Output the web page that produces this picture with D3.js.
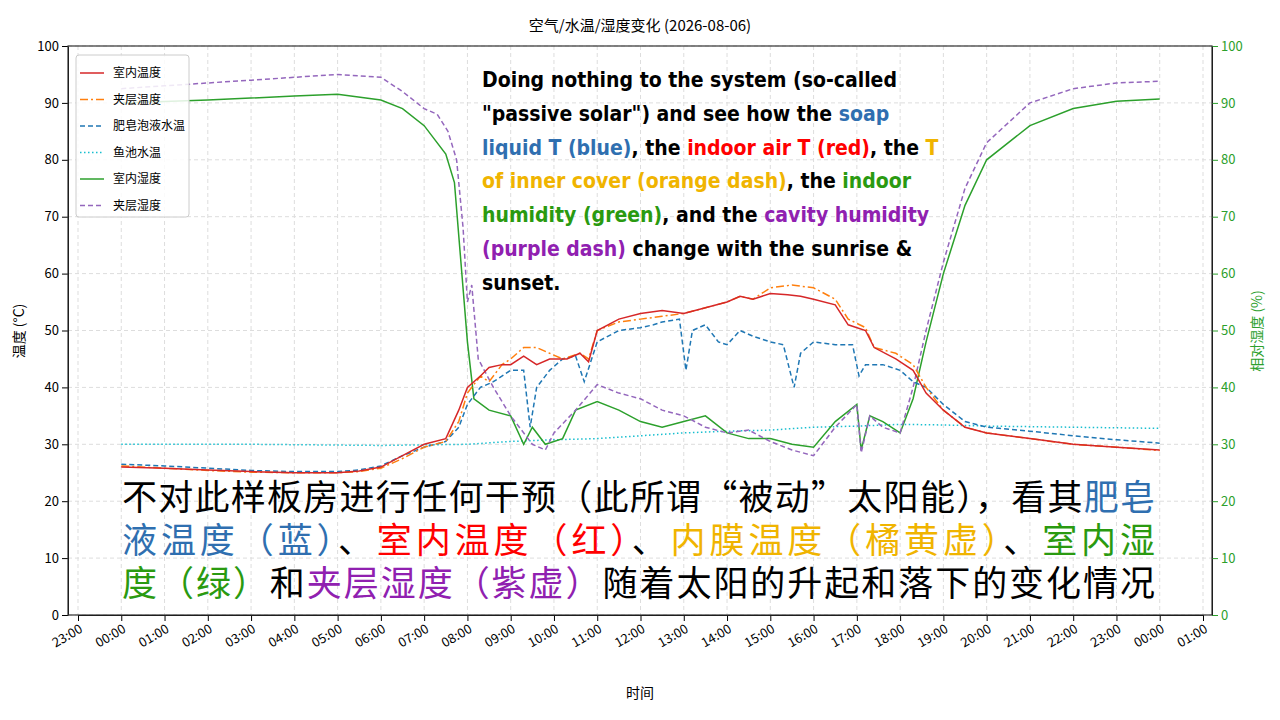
<!DOCTYPE html><html><head><meta charset="utf-8">
<script src="https://cdn.jsdelivr.net/npm/d3@7"></script>
<style>body{margin:0;background:#fff}</style></head><body><svg id="c" width="1280" height="720"></svg>
<script>
const tickLabels=["23:00","00:00","01:00","02:00","03:00","04:00","05:00","06:00","07:00","08:00","09:00","10:00","11:00","12:00","13:00","14:00","15:00","16:00","17:00","18:00","19:00","20:00","21:00","22:00","23:00","00:00","01:00"];
const tickHours=d3.range(-1,26);
const indoorT=[[0,26],[1,25.8],[2,25.5],[3,25.2],[4,25],[5,25],[5.5,25.3],[6,26],[6.5,28],[7,30],[7.5,31],[7.8,36],[8,40],[8.3,42],[8.5,43.5],[8.8,44],[9,44],[9.3,45.5],[9.6,44],[9.9,45],[10.3,45],[10.6,46],[10.8,44.5],[11,50],[11.5,52],[12,53],[12.5,53.5],[13,53],[13.5,54],[14,55],[14.3,56],[14.6,55.5],[15,56.5],[15.4,56.3],[15.7,56],[16,55.5],[16.5,54.5],[16.8,51],[17.2,50],[17.4,47],[17.9,45],[18.3,43],[18.6,39],[19,36],[19.5,33],[20,32],[21,31],[22,30],[23,29.5],[24,29]];
const coverT=[[0,26.2],[1,25.8],[2,25.4],[3,25.1],[4,25],[5,25],[5.5,25.2],[6,25.8],[6.5,27.5],[7,29.5],[7.5,30.5],[7.8,34],[8,39],[8.3,42],[8.5,41],[8.8,44],[9,45],[9.3,47],[9.6,47],[9.9,46],[10.2,45],[10.6,46],[10.8,45],[11,50],[11.5,51.5],[12,52],[12.5,52.5],[13,53],[13.5,54],[14,55],[14.3,56],[14.6,55.5],[15,57.5],[15.5,58],[16,57.5],[16.5,55.5],[16.8,52],[17.2,50.5],[17.4,47],[17.9,46],[18.3,44],[18.6,40],[19,36],[19.5,33],[20,32],[21,31],[22,30],[23,29.5],[24,28.9]];
const soapT=[[0,26.5],[1,26.2],[2,25.8],[3,25.4],[4,25.2],[5,25.2],[5.5,25.5],[6,26.2],[6.5,28],[7,29.5],[7.5,30.5],[7.8,33],[8,37],[8.3,40],[8.6,41],[9,43],[9.3,43],[9.45,33],[9.6,40],[9.9,43],[10.2,45],[10.5,45.5],[10.7,41],[11,48],[11.5,50],[12,50.5],[12.3,51],[12.5,51.5],[12.9,52],[13.05,43],[13.2,50],[13.5,51],[13.8,48],[14,47.5],[14.3,50],[14.6,49],[15,48],[15.3,47.5],[15.55,40],[15.7,46],[16,48],[16.5,47.5],[16.9,47.5],[17.05,42],[17.2,44],[17.6,44],[18,43],[18.3,41],[18.6,40],[19,37],[19.5,34],[20,33],[21,32.3],[22,31.5],[23,30.8],[24,30.2]];
const pondT=[[0,30],[3,30],[6,29.8],[8,30],[9,30.5],[10,30.8],[11,31],[12,31.5],[13,32],[14,32.3],[15,32.5],[16,33],[17,33.2],[18,33.5],[19,33.4],[20,33.2],[22,33],[24,32.8]];
const indoorH=[[0,90],[2,90.5],[4,91.2],[5,91.5],[6,90.5],[6.5,89],[7,86],[7.5,81],[7.7,76],[7.85,62],[8,48],[8.15,38],[8.5,36],[9,35],[9.3,30],[9.5,33],[9.8,30],[10.2,31],[10.5,36],[11,37.5],[11.5,36],[12,34],[12.5,33],[13,34],[13.5,35],[14,32],[14.5,31],[15,31],[15.5,30],[16,29.5],[16.5,34],[17,37],[17.1,29],[17.3,35],[17.6,34],[18,32],[18.3,38],[18.6,48],[19,60],[19.5,72],[20,80],[21,86],[22,89],[23,90.3],[24,90.7]];
const cavityH=[[0,92.5],[1,93],[2,93.5],[3,94],[4,94.5],[5,95],[6,94.5],[6.5,92],[7,89],[7.3,88],[7.55,85],[7.75,80],[7.9,68],[8,55],[8.1,58],[8.25,45],[8.6,40],[9,35],[9.5,30],[9.8,29],[10,32],[10.5,36],[11,40.5],[11.5,39],[12,38],[12.5,36],[13,35],[13.5,33],[14,32],[14.5,32.5],[15,30.5],[15.5,29],[16,28],[16.5,33],[17,37],[17.1,28.5],[17.3,35],[17.6,33],[18,32],[18.3,40],[18.6,50],[19,62],[19.5,75],[20,83],[21,90],[22,92.5],[23,93.5],[24,93.8]];
const yTicks=d3.range(0,101,10);

const svg=d3.select("#c"),L=68,R=1212,T=46,B=615;
const x=d3.scaleLinear().domain([-1,25]).range([78,1203]);
const y=d3.scaleLinear().domain([0,100]).range([B,T]);
const f="'Noto Sans CJK SC','Noto Sans',sans-serif";
const g=svg.append("g");
tickHours.forEach(h=>g.append("line").attr("x1",x(h)).attr("x2",x(h)).attr("y1",T).attr("y2",B).attr("stroke","#ddd").attr("stroke-dasharray","4,3"));
yTicks.forEach(v=>g.append("line").attr("x1",L).attr("x2",R).attr("y1",y(v)).attr("y2",y(v)).attr("stroke","#ddd").attr("stroke-dasharray","4,3"));
const ax=svg.append("g").attr("transform",`translate(0,${B})`).call(d3.axisBottom(x).tickValues(tickHours).tickFormat((d,i)=>tickLabels[i]).tickSizeOuter(0));
ax.selectAll("text").attr("transform","rotate(-30)").attr("text-anchor","end").attr("dx","-0.3em").attr("dy","0.6em").style("font-size","13px").style("font-family",f);
svg.append("g").attr("transform",`translate(${L},0)`).call(d3.axisLeft(y).tickValues(yTicks).tickSizeOuter(0)).selectAll("text").style("font-size","13px").style("font-family",f);
const ra=svg.append("g").attr("transform",`translate(${R},0)`).call(d3.axisRight(y).tickValues(yTicks).tickSizeOuter(0));
ra.selectAll("text").attr("fill","#2ca02c").style("font-size","13px").style("font-family",f);
ra.selectAll("line").attr("stroke","#2ca02c");
svg.append("rect").attr("x",L).attr("y",T).attr("width",R-L).attr("height",B-T).attr("fill","none").attr("stroke","#333").attr("stroke-width",1.2);
const ln=d3.line().x(d=>x(d[0])).y(d=>y(d[1]));
const series=[[pondT,"#17becf","1.5,2.5"],[indoorH,"#2ca02c",null],[cavityH,"#9467bd","5,3"],[soapT,"#1f77b4","5,3"],[coverT,"#ff7f0e","8,3,2,3"],[indoorT,"#d62728",null]];
series.forEach(s=>svg.append("path").attr("d",ln(s[0])).attr("fill","none").attr("stroke",s[1]).attr("stroke-width",1.5).attr("stroke-dasharray",s[2]));
const leg=[["室内温度","#d62728",null],["夹层温度","#ff7f0e","8,3,2,3"],["肥皂泡液水温","#1f77b4","5,3"],["鱼池水温","#17becf","1.5,2.5"],["室内湿度","#2ca02c",null],["夹层湿度","#9467bd","5,3"]];
svg.append("rect").attr("x",76).attr("y",55).attr("width",113).attr("height",162).attr("fill","#fff").attr("fill-opacity",0.85).attr("stroke","#ccc").attr("rx",3);
leg.forEach((l,i)=>{const yy=73+i*26.5;
svg.append("line").attr("x1",80).attr("x2",104).attr("y1",yy).attr("y2",yy).attr("stroke",l[1]).attr("stroke-width",1.5).attr("stroke-dasharray",l[2]);
svg.append("text").attr("x",113).attr("y",yy+4).text(l[0]).style("font-size","12px").style("font-family",f);});
svg.append("text").attr("x",640).attr("y",31).attr("text-anchor","middle").text("空气/水温/湿度变化 (2026-08-06)").style("font-size","15px").style("font-family",f);
svg.append("text").attr("x",640).attr("y",698).attr("text-anchor","middle").text("时间").style("font-size","14px").style("font-family",f);
svg.append("text").attr("transform","translate(24,331)rotate(-90)").attr("text-anchor","middle").text("温度 (°C)").style("font-size","14px").style("font-family",f);
svg.append("text").attr("transform","translate(1262,331)rotate(-90)").attr("text-anchor","middle").attr("fill","#2ca02c").text("相对湿度 (%)").style("font-size","14px").style("font-family",f);
const en=[[["Doing nothing to the system (so-called","#000"]],[["\"passive solar\") and see how the ","#000"],["soap","#2f6fb0"]],[["liquid T (blue)","#2f6fb0"],[", the ","#000"],["indoor air T (red)","#ff0000"],[", the ","#000"],["T","#f0b400"]],[["of inner cover (orange dash)","#f0b400"],[", the ","#000"],["indoor","#2a9a10"]],[["humidity (green)","#2a9a10"],[", and the ","#000"],["cavity humidity","#9020b0"]],[["(purple dash)","#9020b0"],[" change with the sunrise &","#000"]],[["sunset.","#000"]]];
en.forEach((line,i)=>{const t=svg.append("text").attr("x",482).attr("y",87+i*33.8).style("font-family","'DejaVu Sans Condensed','DejaVu Sans',sans-serif").style("font-weight","bold").style("font-size","21px");
line.forEach(p=>t.append("tspan").attr("fill",p[1]).text(p[0]));});
const zh=[[["不对此样板房进行任何干预（此所谓“被动”太阳能），看其","#000"],["肥皂","#2f6fb0"]],[["液温度（蓝）","#2f6fb0"],["、","#000"],["室内温度（红）","#ff0000"],["、","#000"],["内膜温度（橘黄虚）","#f0b400"],["、","#000"],["室内湿","#2a9a10"]],[["度（绿）","#2a9a10"],["和","#000"],["夹层湿度（紫虚）","#9020b0"],["随着太阳的升起和落下的变化情况","#000"]]];
zh.forEach((line,i)=>{const t=svg.append("text").attr("x",122).attr("y",510+i*43).attr("textLength",1033).attr("lengthAdjust","spacing").style("font-family","'Noto Sans CJK SC',sans-serif").style("font-size","35px");
line.forEach(p=>t.append("tspan").attr("fill",p[1]).text(p[0]));});
</script></body></html>
